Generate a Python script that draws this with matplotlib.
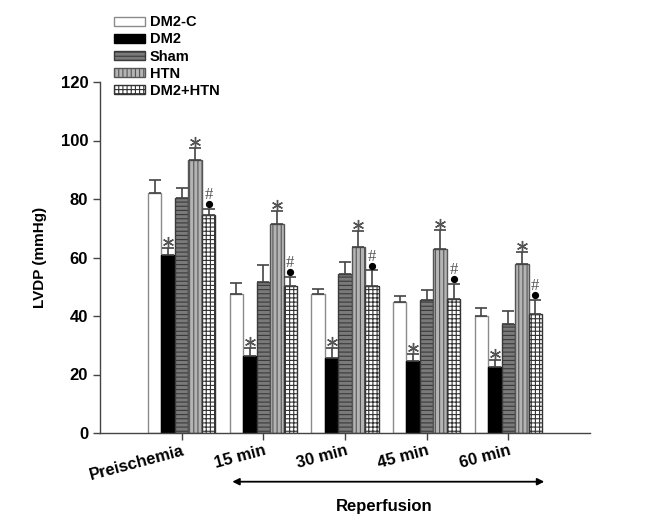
import matplotlib
matplotlib.use("Agg")
import matplotlib.pyplot as plt
import matplotlib.transforms as mtransforms
from matplotlib.patches import Patch
import numpy as np

plt.rcParams['font.family'] = ['Liberation Sans', 'DejaVu Sans']
plt.rcParams['font.weight'] = 'bold'
plt.rcParams['hatch.linewidth'] = 0.8

categories = ['Preischemia', '15 min', '30 min', '45 min', '60 min']
groups = ['DM2-C', 'DM2', 'Sham', 'HTN', 'DM2+HTN']

means = {
    'DM2-C':   [82.2, 47.4, 47.4, 44.7, 39.9],
    'DM2':     [60.8, 26.4, 25.6, 24.5, 22.6],
    'Sham':    [80.4, 51.5, 54.3, 45.5, 37.3],
    'HTN':     [93.3, 71.4, 63.6, 63.0, 57.7],
    'DM2+HTN': [74.4, 50.3, 50.3, 45.7, 40.7],
}
errors = {
    'DM2-C':   [4.2, 3.8, 1.7, 2.0, 2.9],
    'DM2':     [2.3, 2.6, 3.6, 2.4, 2.4],
    'Sham':    [3.4, 5.8, 4.1, 3.3, 4.5],
    'HTN':     [4.2, 4.5, 5.5, 6.3, 4.2],
    'DM2+HTN': [2.2, 3.1, 5.3, 5.3, 4.8],
}
star_groups = ['DM2', 'HTN']
dot_hash_groups = ['DM2+HTN']

styles = {
    'DM2-C':   dict(facecolor='white', edgecolor='#8a8a8a', hatch=None),
    'DM2':     dict(facecolor='black', edgecolor='black', hatch=None),
    'Sham':    dict(facecolor='#7a7a7a', edgecolor='#3a3a3a', hatch='----'),
    'HTN':     dict(facecolor='#b4b4b4', edgecolor='#555555', hatch='||||'),
    'DM2+HTN': dict(facecolor='white', edgecolor='#333333', hatch='++++'),
}

fig = plt.figure(figsize=(6.55, 5.25), dpi=100)
ax = fig.add_axes([100/655, 92/525, 490/655, 351/525])

x = np.arange(len(categories))
width = 0.165
handles = []
for i, g in enumerate(groups):
    xs = x + (i - 2) * width
    st = styles[g]
    ax.bar(xs, means[g], width=width, facecolor=st['facecolor'],
           edgecolor=st['edgecolor'], hatch=st['hatch'], linewidth=1.0, zorder=2)
    ax.errorbar(xs, means[g], yerr=[np.zeros(len(xs)), errors[g]], fmt='none',
                ecolor='#444444', elinewidth=1.2, capsize=4.3, capthick=1.2, zorder=3)
    handles.append(Patch(facecolor=st['facecolor'], edgecolor=st['edgecolor'],
                         hatch=st['hatch'], linewidth=1.0, label=g))
    tops = np.array(means[g]) + np.array(errors[g])
    if g in star_groups:
        tr = mtransforms.offset_copy(ax.transData, fig=fig, x=0, y=6/100, units='inches')
        ax.plot(xs, tops, linestyle='none', marker=(6, 2, 0), markersize=8,
                markeredgewidth=1.0, color='#555555', transform=tr, zorder=4, clip_on=False)
    if g in dot_hash_groups:
        trd = mtransforms.offset_copy(ax.transData, fig=fig, x=0, y=4.5/100, units='inches')
        ax.plot(xs, tops, linestyle='none', marker='o', markersize=4.2,
                color='black', transform=trd, zorder=4, clip_on=False)
        trh = mtransforms.offset_copy(ax.transData, fig=fig, x=0, y=13.5/100, units='inches')
        for xi, ti in zip(xs, tops):
            ax.text(xi, ti, '#', transform=trh, ha='center', va='center',
                    fontsize=12, color='#555555', fontweight='normal',
                    family='Liberation Serif')

ax.set_xlim(-1, 5)
ax.set_ylim(0, 120)
ax.set_yticks([0, 20, 40, 60, 80, 100, 120])
ax.set_xticks(x)
ax.set_xticklabels(categories, rotation=15, ha='right', va='top',
                   rotation_mode='anchor', fontsize=12, fontweight='bold')
ax.tick_params(axis='y', labelsize=12, length=5, width=1, color='#444444')
ax.tick_params(axis='x', length=5, width=1, color='#444444', pad=2)
for lab in ax.get_yticklabels():
    lab.set_fontweight('bold')
ax.spines['top'].set_visible(False)
ax.spines['right'].set_visible(False)
for s in ['left', 'bottom']:
    ax.spines[s].set_color('#444444')
    ax.spines[s].set_linewidth(1.0)
ax.set_ylabel('LVDP (mmHg)', fontsize=11, fontweight='bold', labelpad=10)

ax.annotate('', xy=(0.62, 43.3), xytext=(4.44, 43.3),
            xycoords=('data', 'figure pixels'), textcoords=('data', 'figure pixels'),
            arrowprops=dict(arrowstyle='<|-|>', color='black', lw=1.3,
                            mutation_scale=10, shrinkA=0, shrinkB=0))
fig.text(384/655, 1 - 507/525, 'Reperfusion', ha='center', va='center',
         fontsize=12, fontweight='bold')

leg = fig.legend(handles=handles, loc='upper left', bbox_to_anchor=(114/655, 1 - 15.4/525),
                 frameon=False, fontsize=10.5, handlelength=2.14, handleheight=0.62,
                 labelspacing=0.21, handletextpad=0.3, borderpad=0, borderaxespad=0)
for t in leg.get_texts():
    t.set_fontweight('bold')

fig.savefig('out.png', dpi=100)
